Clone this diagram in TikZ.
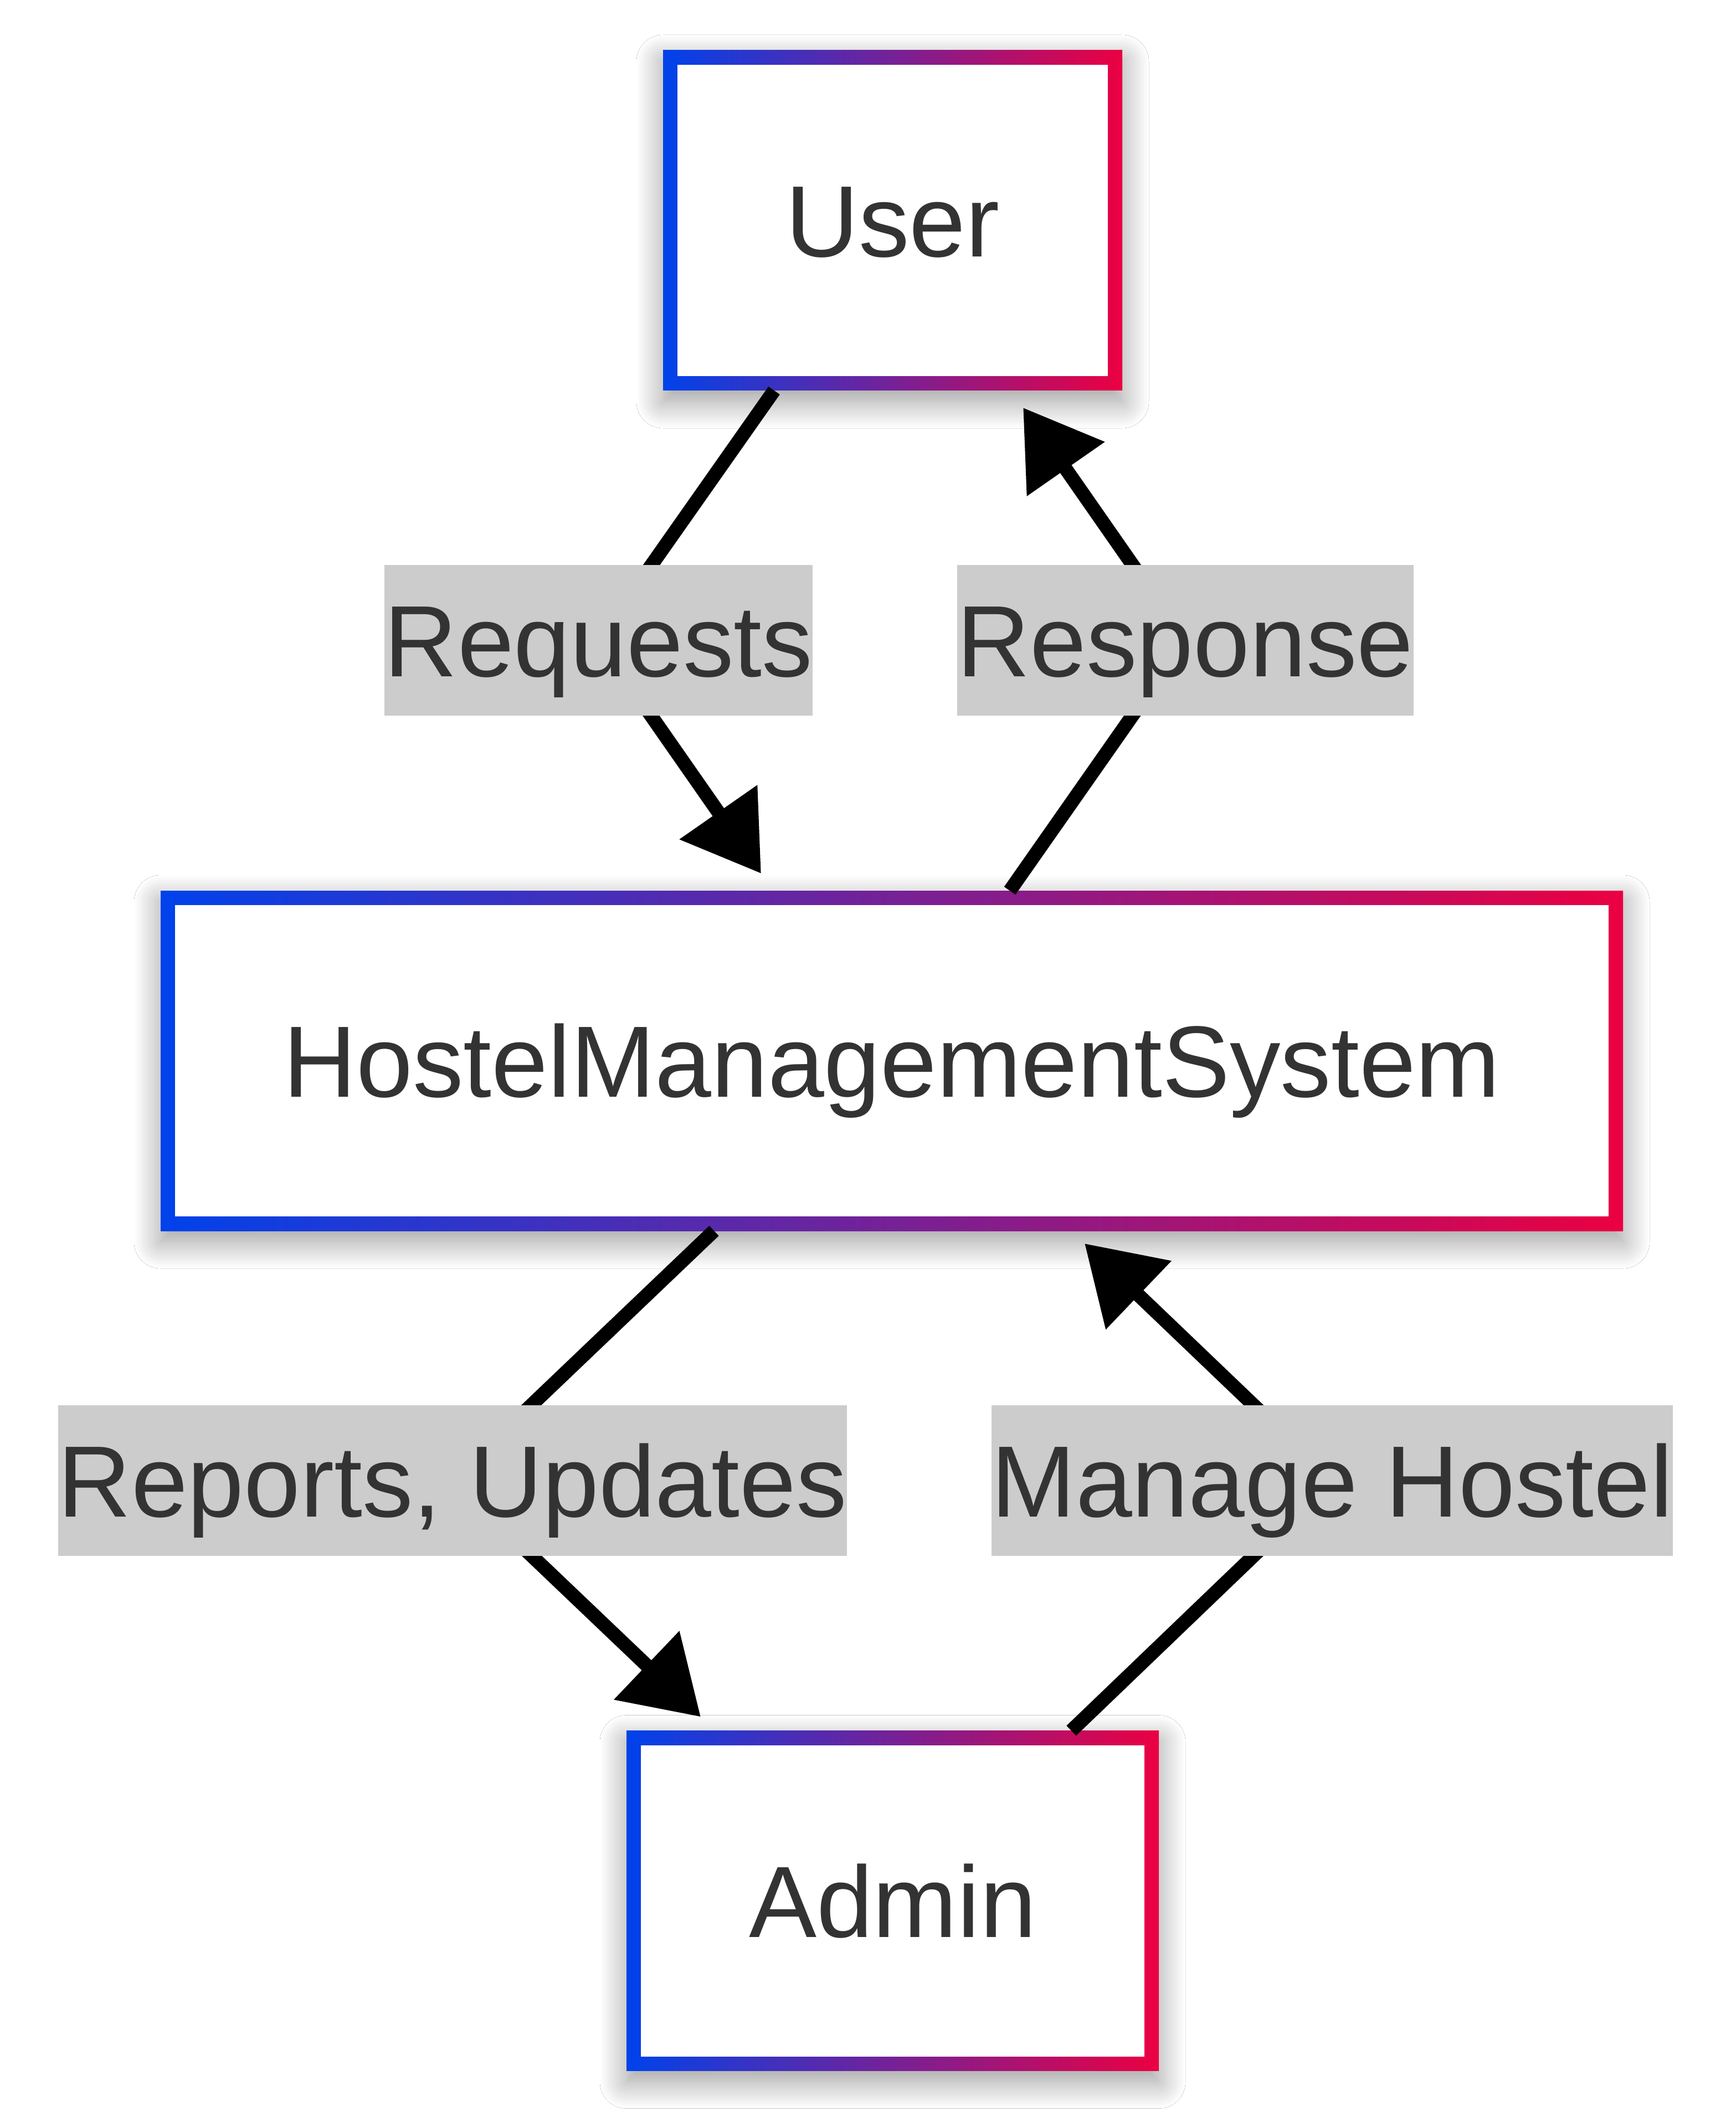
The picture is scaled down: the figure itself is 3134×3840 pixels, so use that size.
\documentclass[tikz,border=0pt]{standalone}
\usepackage{fontspec}
\setmainfont{Liberation Sans}
\usetikzlibrary{arrows.meta,shadows.blur}
\definecolor{gblue}{RGB}{0,66,235}
\definecolor{gred}{RGB}{235,0,66}
\definecolor{txt}{RGB}{51,51,51}
\definecolor{lgray}{RGB}{204,204,204}
\newcommand{\mainsize}{\fontsize{45.75pt}{55pt}\selectfont}
\pgfdeclarelayer{edges}
\pgfdeclarelayer{labels}
\pgfsetlayers{main,edges,labels}
\tikzset{
  box/.style={rectangle, fill=white, draw=none, outer sep=0pt, inner sep=0pt,
    minimum height=153.5pt, text=txt, font=\mainsize, text height=32.75pt, text depth=0pt,
    blur shadow={shadow xshift=0pt, shadow yshift=-5pt, shadow blur radius=12pt,
      shadow blur extra rounding=0pt, shadow blur steps=20, shadow opacity=40},
    path picture={
      \shade[left color=gblue, right color=gred]
        (path picture bounding box.south west) rectangle (path picture bounding box.north east);
      \fill[white]
        ([shift={(6.5pt,6.5pt)}]path picture bounding box.south west) rectangle
        ([shift={(-6.5pt,-6.5pt)}]path picture bounding box.north east);
    }},
  lab/.style={rectangle, fill=lgray, draw=none, inner xsep=0pt, inner ysep=0pt,
    minimum height=68pt, text=txt, font=\mainsize, text height=32.75pt, text depth=0pt},
  conn/.style={line width=6.25pt, draw=black, line join=miter,
    -{Triangle[length=33.75pt, width=41.25pt]}},
}
\begin{document}
\begin{tikzpicture}[x=0.25pt, y=-0.25pt]
\useasboundingbox (0,0) rectangle (3134,3840);
\fill[white] (0,0) rectangle (3134,3840);

% boxes
\node[box, minimum width=207.25pt] (user) at (1611.5,398) {User};
\node[box, minimum width=660pt] (hms) at (1610,1915) {HostelManagementSystem};
\node[box, minimum width=240.25pt] (admin) at (1611.5,3431.5) {Admin};

% labels
\begin{pgfonlayer}{labels}
\node[lab] (lreq) at (1080.5,1156) {Requests};
\node[lab] (lresp) at (2139.5,1156) {Response};
\node[lab] (lrep) at (817,2672.5) {Reports, Updates};
\node[lab] (lman) at (2405,2672.5) {Manage Hostel};
\end{pgfonlayer}

% connectors
\begin{pgfonlayer}{edges}
\draw[conn] ([shift={(-214,0)}]user.south) -- (lreq.center) -- ([shift={(-236,-31)}]hms.north);
\draw[conn] ([shift={(213,0)}]hms.north) -- (lresp.center) -- ([shift={(235.5,31)}]user.south);
\draw[conn] ([shift={(-321,0)}]hms.south) -- (lrep.center) -- ([shift={(-346.5,-25)}]admin.north);
\draw[conn] ([shift={(322.5,0)}]admin.north) -- (lman.center) -- ([shift={(348,23)}]hms.south);
\end{pgfonlayer}
\end{tikzpicture}
\end{document}
